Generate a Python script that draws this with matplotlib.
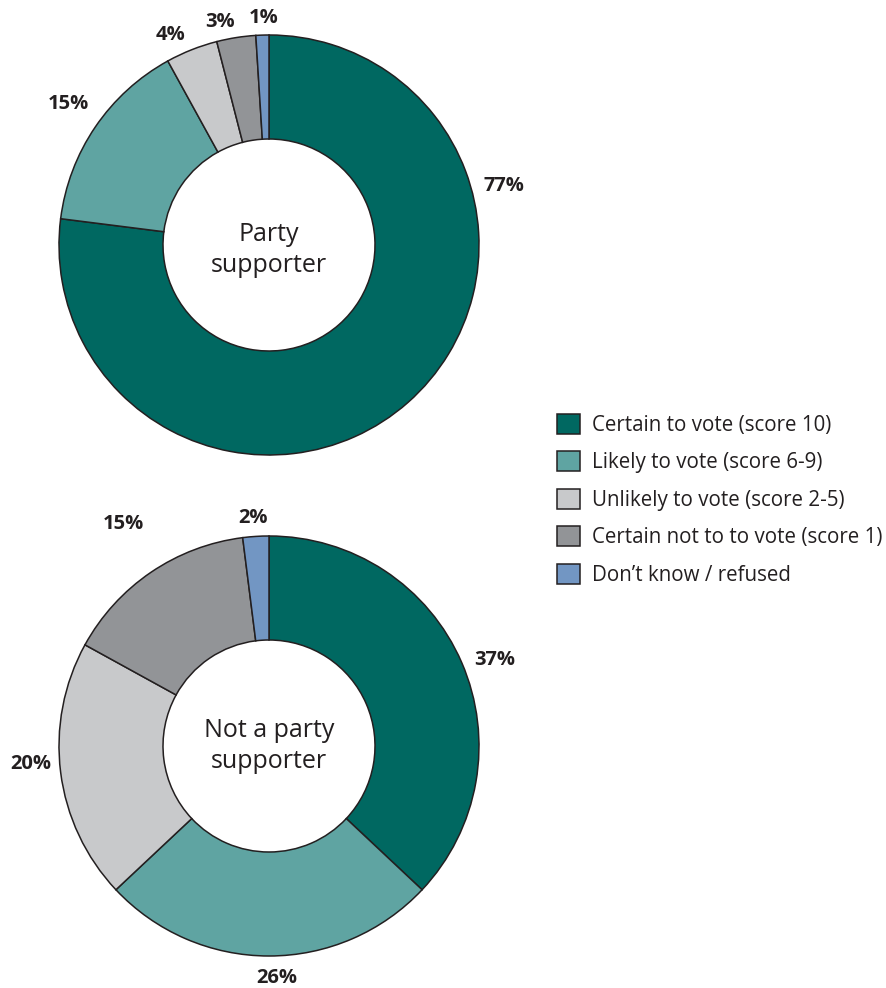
import matplotlib.pyplot as plt

plt.rcParams['font.family'] = ['Open Sans', 'DejaVu Sans']

categories = ['Certain to vote (score 10)', 'Likely to vote (score 6-9)',
              'Unlikely to vote (score 2-5)', 'Certain not to to vote (score 1)',
              'Don\u2019t know / refused']
supporter = [77, 15, 4, 3, 1]
non_supporter = [37, 26, 20, 15, 2]
colours = ['#006861', '#5fa4a2', '#c8c9cb', '#929497', '#7296c3']

# label positions in pixels (x, y from top)
supporter_pos = [(504, 186), (68, 104), (171, 35), (220, 22), (264, 18)]
non_supporter_pos = [(495, 660), (277, 978), (31, 764), (123, 524), (253, 518)]

W, H = 887, 988
fig = plt.figure(figsize=(W / 100, H / 100), dpi=100)
ax = fig.add_axes([0, 0, 1, 1])

def donut(values, centre, title, label_pos, shift):
    cx, cy = centre
    wedges, _ = ax.pie(values, colors=colours, startangle=90, counterclock=False,
                       radius=210, center=(cx, H - cy),
                       wedgeprops=dict(width=104, edgecolor='#231f20', linewidth=1.1))
    ax.text(cx, H - cy - shift, title, ha='center', va='center', fontsize=18,
            color='#231f20', linespacing=1.3)
    for v, (x, y) in zip(values, label_pos):
        ax.text(x, H - y, f'{v}%', ha='center', va='center', fontsize=14.5,
                fontweight='bold', color='#231f20')
    return wedges

wedges = donut(supporter, (269, 245), 'Party\nsupporter', supporter_pos, 5)
donut(non_supporter, (269, 746), 'Not a party\nsupporter', non_supporter_pos, 0)

ax.set_xlim(0, W)
ax.set_ylim(0, H)
ax.set_aspect('equal')
ax.axis('off')

leg = ax.legend(wedges, categories, loc='upper left', bbox_to_anchor=(557 / W, 1 - 414 / H),
                frameon=False, fontsize=14.8, handlelength=1.1, handleheight=1.1,
                handletextpad=0.62, labelspacing=0.76, borderpad=0, borderaxespad=0)
for t in leg.get_texts():
    t.set_color('#231f20')

fig.savefig('out.png', dpi=100)
